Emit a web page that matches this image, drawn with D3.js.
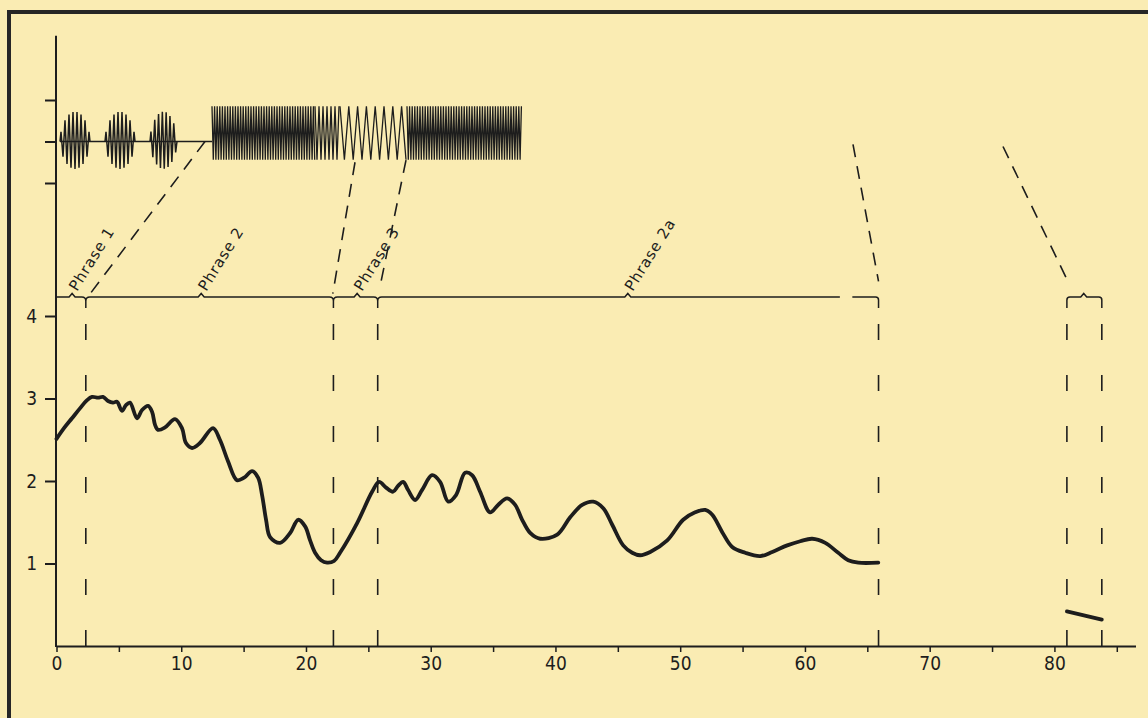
<!DOCTYPE html>
<html><head><meta charset="utf-8">
<script src="https://cdn.jsdelivr.net/npm/d3@7"></script>
<style>html,body{margin:0;padding:0;background:#faecb3;} svg{display:block}</style>
</head><body>
<svg id="chart" width="1148" height="718"></svg>
<script>
// ---------- data ----------
const curveX = [0,0.6,1.24,1.88,2.45,2.85,3.33,3.73,4.13,4.53,4.85,5.25,5.57,5.89,6.46,6.86,7.34,7.66,7.9,8.14,8.7,9.5,10.06,10.38,10.87,11.5,12.55,13.1,13.75,14.47,15.04,15.68,16.16,16.48,16.8,17.12,17.92,18.73,19.37,19.93,20.33,20.73,21.21,21.69,22.25,22.73,24.1,25.3,25.86,26.42,26.98,27.38,27.79,28.19,28.75,29.3,30.11,30.75,31.4,32.03,32.76,33.32,33.96,34.76,35.4,36.12,36.77,37.33,37.97,38.77,40.14,41.18,42.14,43.03,43.83,44.55,45.43,46.15,46.79,47.6,48.96,50.24,51.2,52.01,52.57,53.37,54.17,55.21,56.42,57.38,58.58,59.62,60.58,61.63,62.67,63.47,64.28,65.88];
const curveY = [2.51,2.64,2.76,2.88,2.98,3.02,3.01,3.02,2.97,2.95,2.96,2.85,2.92,2.95,2.76,2.86,2.91,2.84,2.68,2.62,2.65,2.75,2.64,2.46,2.4,2.46,2.64,2.5,2.24,2.01,2.04,2.12,2.04,1.83,1.53,1.32,1.25,1.37,1.53,1.45,1.28,1.13,1.04,1.01,1.03,1.13,1.49,1.87,1.99,1.92,1.87,1.94,1.99,1.89,1.77,1.89,2.07,1.99,1.75,1.83,2.1,2.07,1.87,1.62,1.71,1.79,1.71,1.53,1.37,1.3,1.35,1.56,1.71,1.75,1.67,1.47,1.22,1.13,1.1,1.14,1.28,1.53,1.62,1.65,1.59,1.38,1.2,1.13,1.09,1.14,1.22,1.27,1.3,1.25,1.13,1.04,1.01,1.01];
const tailX = [81.0, 83.8];
const tailY = [0.42, 0.32];

const xTicks = [0,5,10,15,20,25,30,35,40,45,50,55,60,65,70,75,80,85];
const xLabels = ["0","10","20","30","40","50","60","70","80"];
const yTicks = [1,2,3,4];
const yLabels = ["1","2","3","4"];
const waveTicks = [-1,0,1];

const phraseNames = ["Phrase 1","Phrase 2","Phrase 3","Phrase 2a"];
const phraseAt = [1.25, 11.6, 24.1, 45.8];
const phraseLevel = 4.23;
const boundaryAt = [2.35, 22.2, 25.75, 65.9, 81.0, 83.8];
const lineBreak = [62.8, 63.8];
const bracketPeak = 82.35;

// oscillogram (time in waveform units): [start, end, half-period, up, down]
const burstSegs = [[0,30,2.0,0.72,0.66],[45,75,2.0,0.72,0.66],[90,117,1.9,0.72,0.66]];
const blockSegs = [[152,255,1.3,0.85,0.44],[255,280,2.0,0.85,0.44],[280,347,4.4,0.85,0.44],[347,462,1.3,0.85,0.44]];
const baseSpan = [0,152];

// links from oscillogram to phrase line
const linkWaveX = [145, 295, 346, 793, 943];
const linkWaveY = [0, -0.5, -0.45, -0.07, -0.12];
const linkDataX = [2.55, 22.15, 25.9, 65.9, 80.95];
const linkDataY = [4.24, 4.27, 4.33, 4.42, 4.46];

// ---------- chart ----------
const ink = "#1d1d1d";
const svg = d3.select("#chart");
svg.append("rect").attr("width",1148).attr("height",718).attr("fill","#faecb3");
svg.append("rect").attr("x",9).attr("y",12).attr("width",1180).attr("height",740)
   .attr("fill","none").attr("stroke","#262626").attr("stroke-width",4);

const x = d3.scaleLinear().domain([0, 86.5]).range([56.5, 1135.5]);
const y = d3.scaleLinear().domain([0, 4]).range([646, 316]);
const waveX = d3.scaleLinear().domain([0, 462]).range([60, 522]);
const waveY = d3.scaleLinear().domain([-1, 1]).range([183, 100]);

const font = "'DejaVu Sans Condensed','DejaVu Sans',sans-serif";

// x axis
const xa = svg.append("g").attr("transform",`translate(0,${y(0)})`)
  .attr("font-size",19).attr("font-family",font)
  .call(d3.axisBottom(x).tickValues(xTicks).tickSize(6).tickSizeOuter(0).tickPadding(5)
    .tickFormat(d => xLabels.includes(String(d)) ? String(d) : ""));
xa.attr("font-size",19).attr("font-family",font);
xa.select(".domain").attr("stroke",ink).attr("stroke-width",2);
xa.selectAll(".tick line").attr("stroke",ink).attr("stroke-width",1.5);
xa.selectAll("text").attr("fill",ink).attr("font-size",19).style("font-size","19px");

// y axis line
const axX = 56;
svg.append("line").attr("x1",axX).attr("x2",axX).attr("y1",y(0)+1).attr("y2",waveY(2.55))
  .attr("stroke",ink).attr("stroke-width",2);
const ya = svg.append("g").attr("transform",`translate(${axX},0)`)
  .call(d3.axisLeft(y).tickValues(yTicks).tickSize(11).tickPadding(8)
    .tickFormat(d => yLabels[yTicks.indexOf(d)]));
ya.attr("font-size",19).attr("font-family",font);
ya.select(".domain").remove();
ya.selectAll(".tick line").attr("stroke",ink).attr("stroke-width",2);
ya.selectAll("text").attr("fill",ink).style("font-size","19px");
const wa = svg.append("g").attr("transform",`translate(${axX},0)`)
  .call(d3.axisLeft(waveY).tickValues(waveTicks).tickSize(11).tickFormat(""));
wa.select(".domain").remove();
wa.selectAll(".tick line").attr("stroke",ink).attr("stroke-width",2);

// oscillogram
svg.append("line").attr("x1",waveX(baseSpan[0])).attr("x2",waveX(baseSpan[1]))
  .attr("y1",waveY(0)).attr("y2",waveY(0)).attr("stroke",ink).attr("stroke-width",1.4);
const wline = d3.line().x(d => waveX(d[0])).y(d => waveY(d[1]));
burstSegs.forEach(([s,e,h,up,dn]) => {
  const pts = [[s,0]]; let k = 0;
  for (let t = s + h/2; t < e; t += h, k++) {
    const env = Math.pow(Math.sin(Math.PI*(t-s)/(e-s)), 0.5);
    pts.push([t, k%2===0 ? env*up : -env*dn]);
  }
  pts.push([e,0]);
  svg.append("path").attr("d",wline(pts)).attr("fill","none").attr("stroke",ink).attr("stroke-width",1.5);
});
blockSegs.forEach(([s,e,h,up,dn]) => {
  const pts = []; let k = 0;
  for (let t = s; t <= e; t += h, k++) pts.push([t, k%2===0 ? up : -dn]);
  svg.append("path").attr("d",wline(pts)).attr("fill","none").attr("stroke",ink).attr("stroke-width",1.3);
});

// links (dashed diagonals)
linkWaveX.forEach((wx,i) => {
  svg.append("path").attr("d",`M${waveX(wx)},${waveY(linkWaveY[i])}L${x(linkDataX[i])},${y(linkDataY[i])}`)
    .attr("stroke",ink).attr("stroke-width",1.6).attr("stroke-dasharray","13,9").attr("fill","none");
});

// phrase line
const P = y(phraseLevel);
let d = `M${x(0)},${P}`;
const feats = phraseAt.map(v => ({v, t:"b"})).concat(boundaryAt.slice(0,3).map(v => ({v, t:"t"})))
  .sort((a,b) => a.v - b.v);
feats.forEach(f => {
  const fx = x(f.v);
  if (f.t === "b") d += `L${fx-3},${P}L${fx},${P-3.5}L${fx+3},${P}`;
  else d += `L${fx-4},${P}Q${fx},${P} ${fx},${P+4}L${fx},${P+11}M${fx},${P+4}Q${fx},${P} ${fx+4},${P}`;
});
d += `L${x(lineBreak[0])},${P}`;
const e1 = x(boundaryAt[3]);
d += `M${x(lineBreak[1])},${P}L${e1-3},${P}Q${e1},${P} ${e1},${P+3}L${e1},${P+11}`;
const b1 = x(boundaryAt[4]), b2 = x(boundaryAt[5]), bp = x(bracketPeak);
d += `M${b1},${P+11}L${b1},${P+3}Q${b1},${P} ${b1+3},${P}L${bp-3},${P}L${bp},${P-3.5}L${bp+3},${P}L${b2-3},${P}Q${b2},${P} ${b2},${P+3}L${b2},${P+11}`;
svg.append("path").attr("d",d).attr("fill","none").attr("stroke",ink).attr("stroke-width",1.5);

// phrase labels
phraseNames.forEach((n,i) => {
  svg.append("text").attr("transform",`translate(${x(phraseAt[i])+5},${P-5}) rotate(-58)`)
    .attr("fill",ink).style("font-family","'DejaVu Sans',sans-serif").style("font-size","15px")
    .style("letter-spacing","0.8px").text(n);
});

// vertical boundary dashes
boundaryAt.forEach(b => {
  svg.append("path").attr("d",`M${x(b)},${y(0)}L${x(b)},${P+11}`)
    .attr("stroke",ink).attr("stroke-width",1.6).attr("stroke-dasharray","16,35");
});

// main curve
const line = d3.line().x(d => x(d[0])).y(d => y(d[1])).curve(d3.curveCatmullRom.alpha(0.5));
svg.append("path").attr("d",line(curveX.map((v,i)=>[v,curveY[i]])))
  .attr("fill","none").attr("stroke",ink).attr("stroke-width",3.8).attr("stroke-linejoin","round").attr("stroke-linecap","round");
svg.append("path").attr("d",line(tailX.map((v,i)=>[v,tailY[i]])))
  .attr("fill","none").attr("stroke",ink).attr("stroke-width",3.8).attr("stroke-linecap","round");
</script>
</body></html>
